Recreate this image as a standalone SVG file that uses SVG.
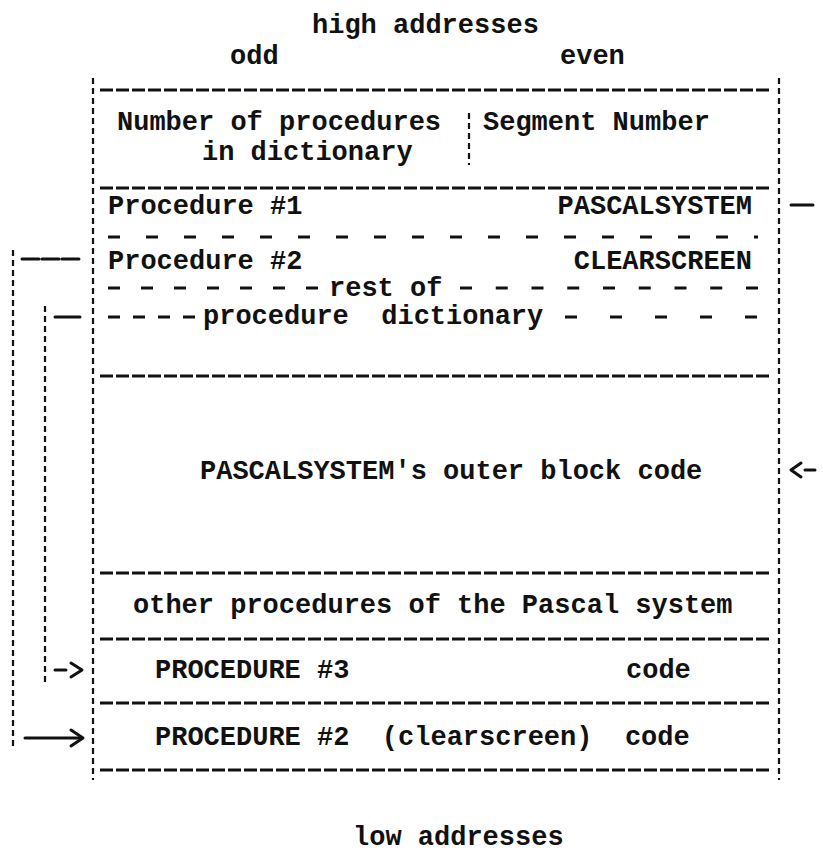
<svg xmlns="http://www.w3.org/2000/svg" width="823" height="854" viewBox="0 0 823 854">
<style>
text{font-family:"Liberation Mono","DejaVu Sans Mono",monospace;font-size:27px;font-weight:bold;fill:#111;white-space:pre}
.h{stroke:#111;stroke-width:3;stroke-dasharray:13 3;fill:none}
.v{stroke:#111;stroke-width:2.2;stroke-dasharray:6 4;fill:none}
.sp{stroke:#111;stroke-width:3;fill:none}
.c{stroke:#111;stroke-width:3;fill:none;stroke-linecap:round;stroke-linejoin:round}
</style>
<rect width="823" height="854" fill="#fff"/>
<g id="labels">
<text x="312" y="33">high addresses</text>
<text x="230" y="64">odd</text>
<text x="560" y="64">even</text>
<text x="353" y="845">low addresses</text>
</g>
<g id="frame">
<line class="v" x1="93" y1="78" x2="93" y2="780"/>
<line class="v" x1="779" y1="78" x2="779" y2="780"/>
<line class="h" x1="100" y1="90" x2="770" y2="90"/>
<line class="h" x1="100" y1="188" x2="770" y2="188"/>
<line class="h" x1="100" y1="376" x2="770" y2="376"/>
<line class="h" x1="100" y1="573" x2="770" y2="573"/>
<line class="h" x1="100" y1="639" x2="770" y2="639"/>
<line class="h" x1="100" y1="703" x2="770" y2="703"/>
<line class="h" x1="100" y1="770" x2="770" y2="770"/>
</g>
<g id="header-row">
<text x="117" y="130">Number of procedures</text>
<text x="202" y="160">in dictionary</text>
<line class="v" x1="469" y1="113" x2="469" y2="165"/>
<text x="483" y="130">Segment Number</text>
</g>
<g id="procedure-1">
<text x="108" y="214">Procedure #1</text>
<text x="752" y="214" text-anchor="end">PASCALSYSTEM</text>
<line class="sp" x1="108" y1="237" x2="758" y2="237" stroke-dasharray="12 26"/>
</g>
<g id="procedure-2">
<text x="108" y="269">Procedure #2</text>
<text x="752" y="269" text-anchor="end">CLEARSCREEN</text>
</g>
<g id="rest-of-dictionary">
<line class="sp" x1="108" y1="288" x2="320" y2="288" stroke-dasharray="12 21"/>
<text x="329" y="296">rest of</text>
<line class="sp" x1="460" y1="288" x2="758" y2="288" stroke-dasharray="12 23.75"/>
<line class="sp" x1="108" y1="317" x2="195" y2="317" stroke-dasharray="12 13"/>
<text x="203" y="324">procedure  dictionary</text>
<line class="sp" x1="565" y1="317" x2="758" y2="317" stroke-dasharray="12 33"/>
</g>
<g id="outer-block">
<text x="200" y="479">PASCALSYSTEM's outer block code</text>
</g>
<g id="other-procedures">
<text x="133" y="613">other procedures of the Pascal system</text>
</g>
<g id="procedure-3-code">
<text x="155" y="678">PROCEDURE #3</text>
<text x="626" y="678">code</text>
</g>
<g id="procedure-2-code">
<text x="155" y="745">PROCEDURE #2  (clearscreen)  code</text>
</g>
<g id="connectors">
<line class="v" x1="13" y1="250" x2="13" y2="748"/>
<line class="c" x1="22" y1="259" x2="82" y2="259" stroke-dasharray="17 3"/>
<line class="v" x1="45" y1="306" x2="45" y2="682"/>
<line class="c" x1="55" y1="317" x2="80" y2="317"/>
<line class="c" x1="55" y1="670" x2="66" y2="670"/>
<polyline class="c" points="71,663 82,670 71,677"/>
<line class="c" x1="25" y1="738" x2="80" y2="738"/>
<polyline class="c" points="71,730 83,738 71,746"/>
<line class="c" x1="791" y1="205" x2="813" y2="205"/>
<polyline class="c" points="801,463 791,470 801,477"/>
<line class="c" x1="805" y1="470" x2="815" y2="470"/>
</g>
</svg>
